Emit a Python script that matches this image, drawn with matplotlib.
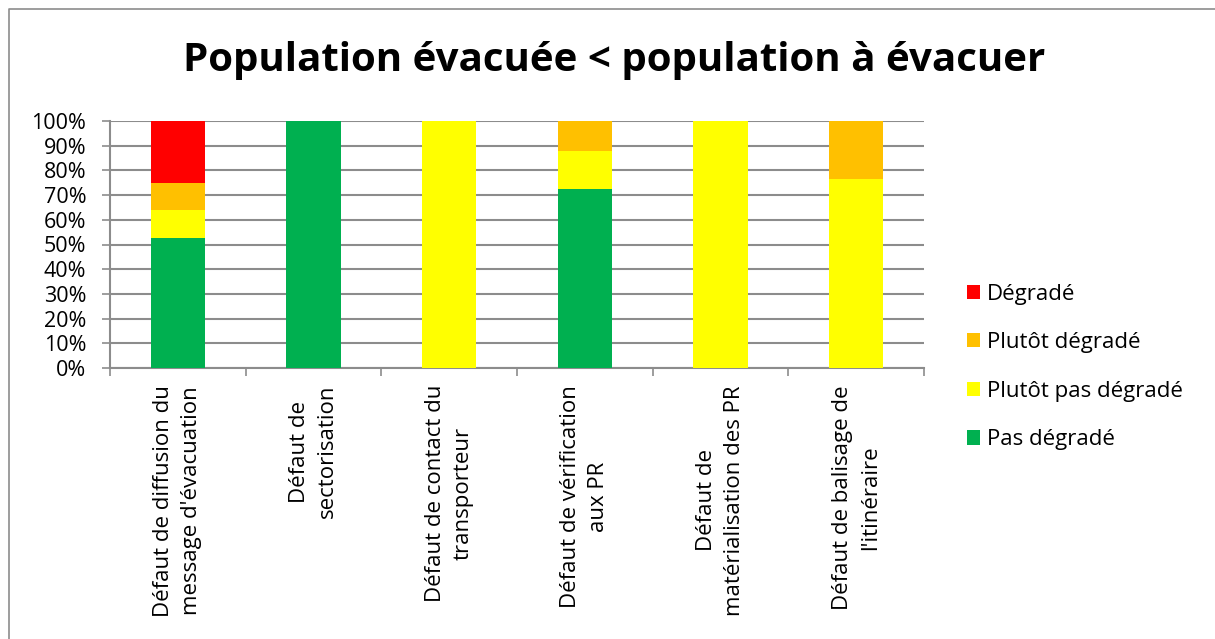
import numpy as np
import matplotlib.pyplot as plt
from matplotlib.lines import Line2D

plt.rcParams['font.family'] = ['Open Sans', 'DejaVu Sans']

categories = ["Défaut de diffusion du\nmessage d'évacuation",
              "Défaut de\nsectorisation",
              "Défaut de contact du\ntransporteur",
              "Défaut de vérification\naux PR",
              "Défaut de\nmatérialisation des PR",
              "Défaut de balisage de\nl'itinéraire"]
series = ["Pas dégradé", "Plutôt pas dégradé", "Plutôt dégradé", "Dégradé"]
pas_degrade = [52.5, 100, 0, 72.5, 0, 0]
plutot_pas_degrade = [11.5, 0, 100, 15.2, 100, 76.6]
plutot_degrade = [11.0, 0, 0, 12.3, 0, 23.4]
degrade = [25.0, 0, 0, 0, 0, 0]
colors = ['#00b050', '#ffff00', '#ffc000', '#ff0000']

W, H = 1215, 639
fig = plt.figure(figsize=(W / 100, H / 100), dpi=100)
ax = fig.add_axes([110 / W, 1 - 368 / H, (924 - 110) / W, (368 - 121) / H])

x = np.arange(len(categories))
bottom = np.zeros(len(categories))
handles = []
for name, vals, c in zip(series, [pas_degrade, plutot_pas_degrade, plutot_degrade, degrade], colors):
    vals = np.array(vals)
    b = ax.bar(x, vals, 0.40, bottom=bottom, color=c, label=name, zorder=3)
    bottom += vals
    handles.append(b)

ax.set_xlim(-0.5, len(categories) - 0.5)
ax.set_ylim(0, 100)
ax.set_yticks(np.arange(0, 101, 10))
ax.set_yticklabels(['%d%%' % v for v in range(0, 101, 10)], fontsize=15.5)
ax.yaxis.grid(True, color='#8c8c8c', linewidth=1.5, zorder=0)
ax.set_axisbelow(True)
ax.tick_params(axis='y', length=6, color='#8c8c8c', width=1.2, pad=11)

ax.set_xticks(np.arange(-0.5, len(categories)))
ax.set_xticklabels([])
ax.tick_params(axis='x', length=6, color='#8c8c8c', width=1.2, direction='out')
for xi, lab in zip(x, categories):
    ax.text(xi, -17 / 247, lab, rotation=90, ha='center', va='top', fontsize=16,
            multialignment='center', linespacing=1.45,
            transform=ax.get_xaxis_transform(), clip_on=False)

for s in ['top', 'right']:
    ax.spines[s].set_visible(False)
for s in ['left', 'bottom']:
    ax.spines[s].set_color('#8c8c8c')
    ax.spines[s].set_linewidth(1.5)

fig.text(614 / W, 1 - 60 / H, 'Population évacuée < population à évacuer',
         ha='center', va='center', fontsize=29, fontweight='bold')

leg = fig.legend(handles[::-1], series[::-1], loc='center left',
                 bbox_to_anchor=(947 / W, 1 - 367 / H), frameon=False,
                 fontsize=16, handlelength=0.6, handleheight=0.6,
                 labelspacing=1.24, handletextpad=0.3)

# cadre du graphique (gauche + haut)
fig.lines.append(Line2D([8.5 / W, 8.5 / W, 1], [0, 1 - 8.5 / H, 1 - 8.5 / H],
                        transform=fig.transFigure, color='#8c8c8c', linewidth=1.2))

fig.savefig('out.png', dpi=100)
